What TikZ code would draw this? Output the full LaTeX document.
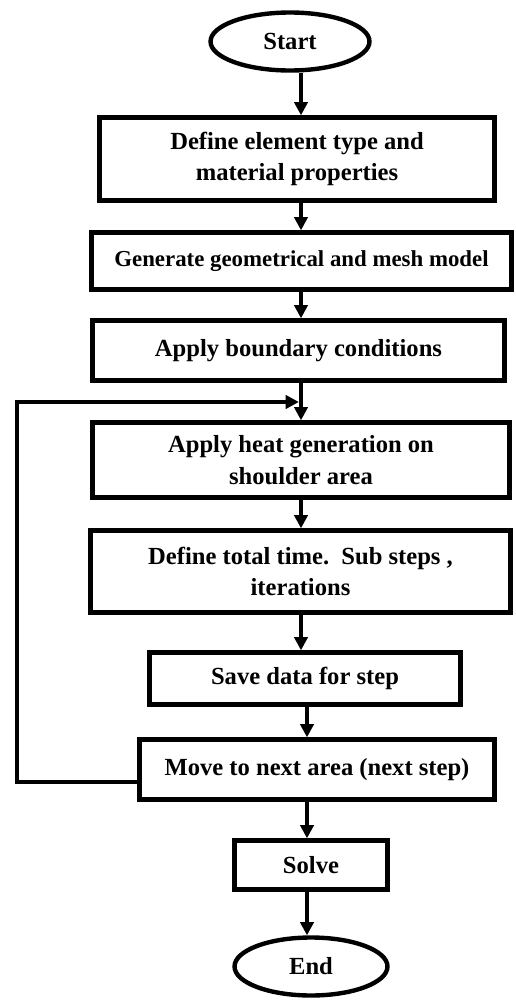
\documentclass[tikz,border=0pt]{standalone}
\usepackage{fontspec}
\setmainfont{Liberation Serif}
\usetikzlibrary{arrows.meta,shapes.geometric}

\tikzset{
  procbox/.style={draw, line width=2.5pt, rectangle, align=center, inner sep=0pt,
    font=\bfseries\fontsize{14}{18}\selectfont},
  term/.style={procbox, ellipse},
  flow/.style={line width=2.3pt, -{Triangle[length=7.5pt,width=7.5pt]}},
}

\begin{document}
\begin{tikzpicture}[x=0.02cm, y=-0.02cm]
\useasboundingbox (0,0) rectangle (515,1001);
\coordinate (spine) at (301,0);
\coordinate (spinelow) at (307,0);
\coordinate (back) at (17,402);

\node [term, minimum width=3.18cm, minimum height=1.16cm] (start) at (290,41.5) {Start};
\node [procbox, minimum width=7.9cm, minimum height=1.66cm] (def) at (297,159)
  {Define element type and\\material properties};
\node [procbox, minimum width=8.4cm, minimum height=1.14cm,
  font=\bfseries\fontsize{13}{17}\selectfont] (gen) at (301.5,261)
  {Generate geometrical and mesh model};
\node [procbox, minimum width=8.24cm, minimum height=1.2cm] (bc) at (298.5,350.5)
  {Apply boundary conditions};
\node [procbox, minimum width=8.34cm, minimum height=1.5cm] (heat) at (301,460)
  {Apply heat generation on\\shoulder area};
\node [procbox, minimum width=8.4cm, minimum height=1.64cm] (time) at (300.5,571.5)
  {Define total time.~~Sub steps ,\\iterations};
\node [procbox, minimum width=6.22cm, minimum height=1.04cm] (save) at (305,678.5)
  {Save data for step};
\node [procbox, minimum width=7.1cm, minimum height=1.2cm] (move) at (317,769.5)
  {Move to next area (next step)};
\node [procbox, minimum width=3.06cm, minimum height=0.98cm] (solve) at (311,865)
  {Solve};
\node [term, minimum width=3.06cm, minimum height=1.16cm] (end) at (311,966.5) {End};

% main line
\draw [flow] (spine |- start.south) -- (spine |- def.north);
\draw [flow] (spine |- def.south) -- (spine |- gen.north);
\draw [flow] (spine |- gen.south) -- (spine |- bc.north);
\draw [flow] (spine |- bc.south) -- (spine |- heat.north);
\draw [flow] (spine |- heat.south) -- (spine |- time.north);
\draw [flow] (spine |- time.south) -- (spine |- save.north);
\draw [flow] (spinelow |- save.south) -- (spinelow |- move.north);
\draw [flow] (spinelow |- move.south) -- (spinelow |- solve.north);
\draw [flow] (spinelow |- solve.south) -- (spinelow |- end.north);

% loop back to next area
\draw [flow, shorten >=1.2pt] ([yshift=-0.25cm]move.west) -| (back) -- (back -| spine);
\end{tikzpicture}
\end{document}
